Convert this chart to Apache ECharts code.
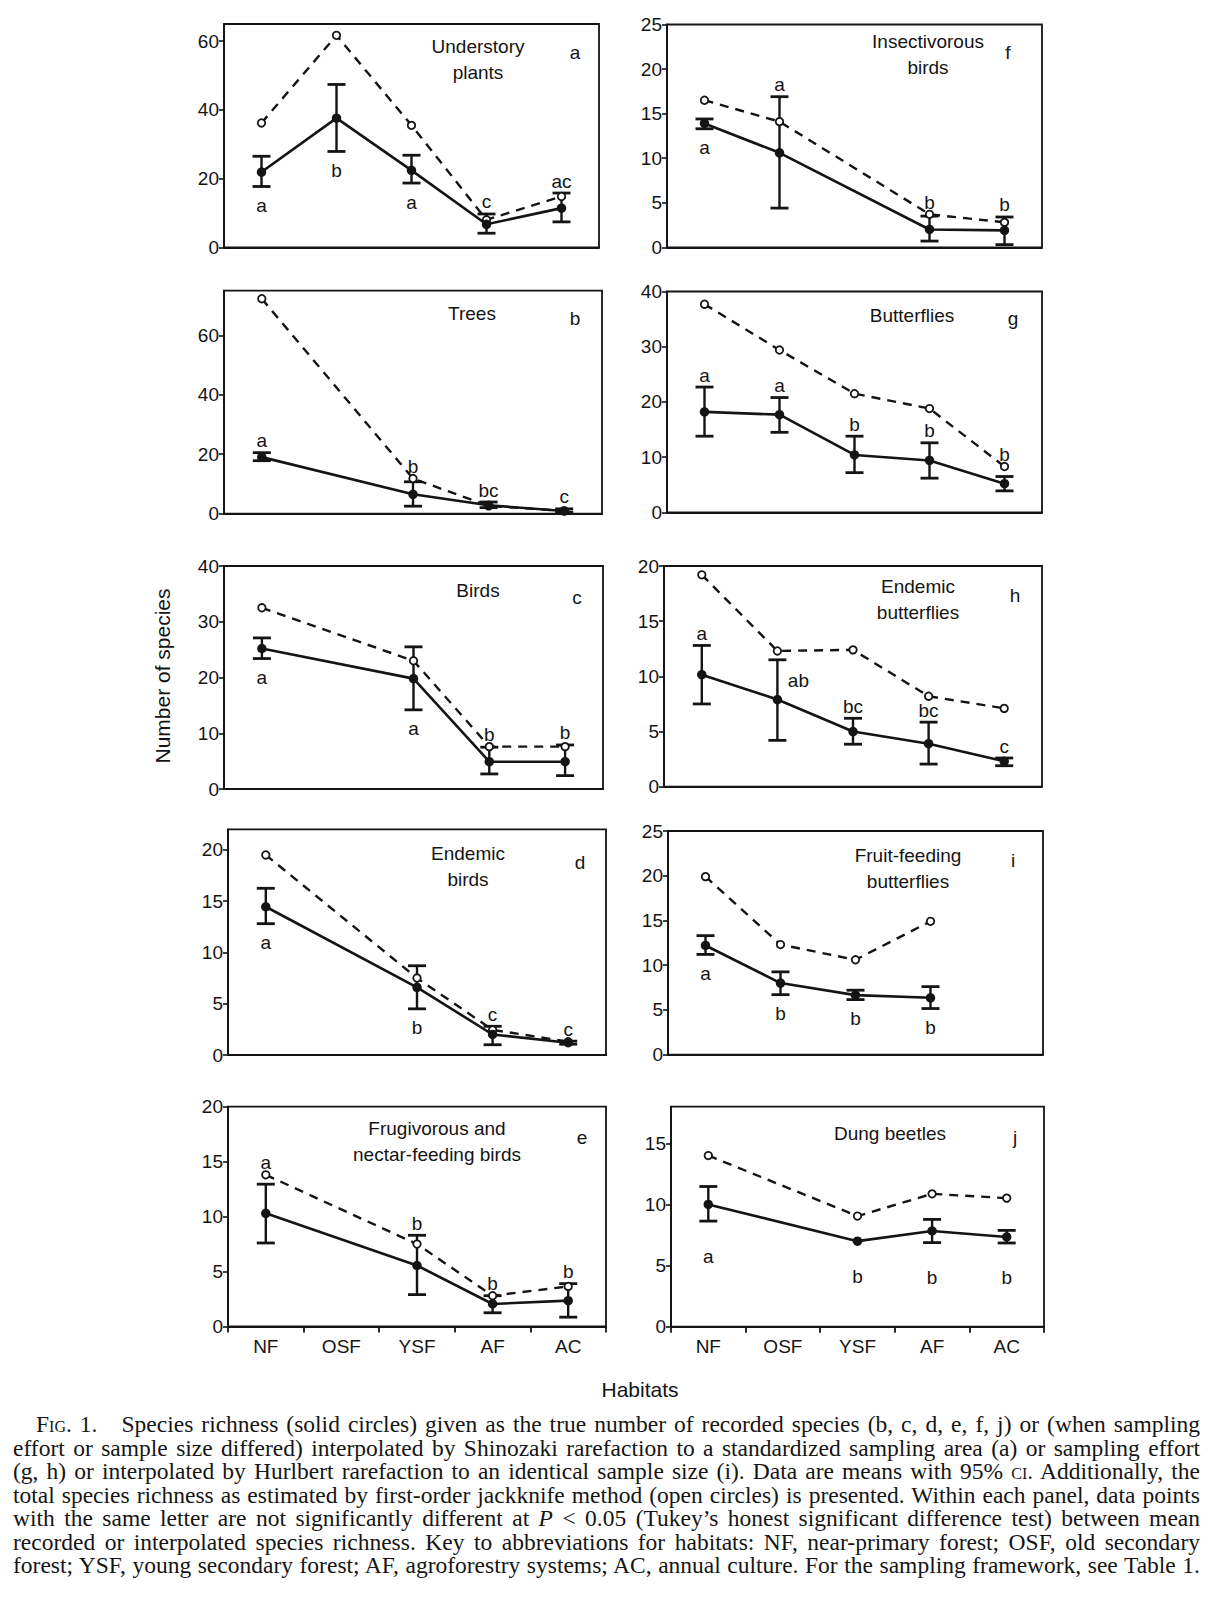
<!DOCTYPE html>
<html><head><meta charset="utf-8">
<script src="https://cdn.jsdelivr.net/npm/echarts@6/dist/echarts.min.js"></script>
<style>
html,body{margin:0;padding:0;background:#fff;}
#chart{position:absolute;left:0;top:0;width:1223px;height:1605px;}
#caption{position:absolute;left:13px;top:1413px;width:1187px;font-family:'Liberation Serif','Times New Roman',serif;font-size:23.5px;line-height:23.5px;color:#151515;}
#caption div{white-space:nowrap;overflow:visible;height:23.5px;}
#caption div span.ln{display:inline-block;white-space:nowrap;}
.sc{font-variant:small-caps;}
</style></head><body>
<div id="chart"></div>
<div id="caption">
<div style="padding-left:23px"><span class="ln">F<span class="sc">ig</span>. 1.&nbsp;&nbsp; Species richness (solid circles) given as the true number of recorded species (b, c, d, e, f, j) or (when sampling</span></div>
<div><span class="ln">effort or sample size differed) interpolated by Shinozaki rarefaction to a standardized sampling area (a) or sampling effort</span></div>
<div><span class="ln">(g, h) or interpolated by Hurlbert rarefaction to an identical sample size (i). Data are means with 95% <span class="sc">ci</span>. Additionally, the</span></div>
<div><span class="ln">total species richness as estimated by first-order jackknife method (open circles) is presented. Within each panel, data points</span></div>
<div><span class="ln">with the same letter are not significantly different at <i>P</i> &lt; 0.05 (Tukey’s honest significant difference test) between mean</span></div>
<div><span class="ln">recorded or interpolated species richness. Key to abbreviations for habitats: NF, near-primary forest; OSF, old secondary</span></div>
<div><span class="ln">forest; YSF, young secondary forest; AF, agroforestry systems; AC, annual culture. For the sampling framework, see Table 1.</span></div>
</div>
<script>
// ---------- DATA ----------
const habitats = ['NF', 'OSF', 'YSF', 'AF', 'AC'];

// (a) Understory plants
const understoryMean = [21.9, 37.6, 22.4, 6.7, 11.4];
const understoryLow = [17.7, 27.9, 18.7, 4.1, 7.4];
const understoryHigh = [26.5, 47.4, 26.8, 9.7, 15.8];
const understoryJack = [36.2, 61.7, 35.5, 8.0, 14.8];
const understoryLetters = ['a', 'b', 'a', 'c', 'ac'];

// (b) Trees
const treesMean = [19.0, null, 6.5, 2.8, 0.9];
const treesLow = [17.8, null, 2.5, 2.0, 0.5];
const treesHigh = [20.5, null, 10.7, 3.9, 1.6];
const treesJack = [72.3, null, 11.8, 2.6, 0.9];
const treesLetters = ['a', '', 'b', 'bc', 'c'];

// (c) Birds
const birdsMean = [25.2, null, 19.8, 4.9, 4.9];
const birdsLow = [23.4, null, 14.2, 2.7, 2.4];
const birdsHigh = [27.1, null, 25.5, 7.5, 7.9];
const birdsJack = [32.5, null, 23.0, 7.6, 7.6];
const birdsLetters = ['a', '', 'a', 'b', 'b'];

// (d) Endemic birds
const endBirdsMean = [14.45, null, 6.6, 2.0, 1.2];
const endBirdsLow = [12.8, null, 4.5, 1.0, 1.05];
const endBirdsHigh = [16.25, null, 8.7, 2.8, 1.35];
const endBirdsJack = [19.5, null, 7.5, 2.45, 1.3];
const endBirdsLetters = ['a', '', 'b', 'c', 'c'];

// (e) Frugivorous and nectar-feeding birds
const frugMean = [10.3, null, 5.55, 2.05, 2.35];
const frugLow = [7.6, null, 2.9, 1.25, 0.85];
const frugHigh = [12.95, null, 8.3, 2.8, 3.9];
const frugJack = [13.8, null, 7.5, 2.8, 3.65];
const frugLetters = ['a', '', 'b', 'b', 'b'];

// (f) Insectivorous birds
const insectMean = [13.9, 10.6, null, 2.0, 1.9];
const insectLow = [13.3, 4.4, null, 0.7, 0.3];
const insectHigh = [14.4, 16.9, null, 3.5, 3.4];
const insectJack = [16.5, 14.1, null, 3.7, 2.8];
const insectLetters = ['a', 'a', '', 'b', 'b'];

// (g) Butterflies
const buttMean = [18.2, 17.7, 10.4, 9.4, 5.2];
const buttLow = [13.8, 14.5, 7.2, 6.2, 3.9];
const buttHigh = [22.7, 20.8, 13.8, 12.6, 6.5];
const buttJack = [37.7, 29.4, 21.5, 18.8, 8.3];
const buttLetters = ['a', 'a', 'b', 'b', 'b'];

// (h) Endemic butterflies
const endButtMean = [10.15, 7.9, 5.0, 3.9, 2.3];
const endButtLow = [7.5, 4.2, 3.85, 2.05, 1.9];
const endButtHigh = [12.8, 11.5, 6.2, 5.85, 2.6];
const endButtJack = [19.2, 12.3, 12.4, 8.2, 7.1];
const endButtLetters = ['a', 'ab', 'bc', 'bc', 'c'];

// (i) Fruit-feeding butterflies
const fruitMean = [12.2, 8.0, 6.65, 6.35, null];
const fruitLow = [11.2, 6.7, 6.15, 5.15, null];
const fruitHigh = [13.3, 9.25, 7.2, 7.6, null];
const fruitJack = [19.9, 12.3, 10.6, 14.9, null];
const fruitLetters = ['a', 'b', 'b', 'b', ''];

// (j) Dung beetles
const dungMean = [10.0, null, 7.0, 7.83, 7.34];
const dungLow = [8.64, null, null, 6.88, 6.85];
const dungHigh = [11.47, null, null, 8.78, 7.88];
const dungJack = [14.0, null, 9.05, 10.87, 10.52];
const dungLetters = ['a', '', 'b', 'b', 'b'];

// ---------- PANEL LAYOUT ----------
const panels = [
  { tag: 'a', title: 'Understory\nplants', mean: understoryMean, low: understoryLow, high: understoryHigh, jack: understoryJack, letters: understoryLetters,
    box: [224, 24, 599, 247.3], max: 65, ticks: [0, 20, 40, 60], titlePos: [478, 59.5], tagPos: [575, 52], sides: ['b','b','b','a','a'] },
  { tag: 'b', title: 'Trees', mean: treesMean, low: treesLow, high: treesHigh, jack: treesJack, letters: treesLetters,
    box: [224, 290.7, 602, 513.6], max: 75, ticks: [0, 20, 40, 60], titlePos: [472, 313.5], tagPos: [575, 318.5], sides: ['a','','a','a','a'] },
  { tag: 'c', title: 'Birds', mean: birdsMean, low: birdsLow, high: birdsHigh, jack: birdsJack, letters: birdsLetters,
    box: [224, 566, 603, 789], max: 40, ticks: [0, 10, 20, 30, 40], titlePos: [478, 590], tagPos: [577, 597], sides: ['b','','b','a','a'] },
  { tag: 'd', title: 'Endemic\nbirds', mean: endBirdsMean, low: endBirdsLow, high: endBirdsHigh, jack: endBirdsJack, letters: endBirdsLetters,
    box: [228, 829.3, 606, 1055], max: 22, ticks: [0, 5, 10, 15, 20], titlePos: [468, 866.7], tagPos: [580, 862], sides: ['b','','b','a','a'] },
  { tag: 'e', title: 'Frugivorous and\nnectar-feeding birds', mean: frugMean, low: frugLow, high: frugHigh, jack: frugJack, letters: frugLetters,
    box: [228, 1106.7, 606, 1326.5], max: 20, ticks: [0, 5, 10, 15, 20], titlePos: [437, 1141.3], tagPos: [582, 1137], sides: ['a','','a','a','a'], bottomRow: true },
  { tag: 'f', title: 'Insectivorous\nbirds', mean: insectMean, low: insectLow, high: insectHigh, jack: insectJack, letters: insectLetters,
    box: [667, 24.5, 1042, 247.3], max: 25, ticks: [0, 5, 10, 15, 20, 25], titlePos: [928, 54.2], tagPos: [1008, 52], sides: ['b','a','','a','a'] },
  { tag: 'g', title: 'Butterflies', mean: buttMean, low: buttLow, high: buttHigh, jack: buttJack, letters: buttLetters,
    box: [667, 291.5, 1042, 512.4], max: 40, ticks: [0, 10, 20, 30, 40], titlePos: [912, 315], tagPos: [1013, 318.5], sides: ['a','a','a','a','a'] },
  { tag: 'h', title: 'Endemic\nbutterflies', mean: endButtMean, low: endButtLow, high: endButtHigh, jack: endButtJack, letters: endButtLetters,
    box: [664, 566, 1042, 786.7], max: 20, ticks: [0, 5, 10, 15, 20], titlePos: [918, 599.5], tagPos: [1015, 595], sides: ['a','r','a','a','a'] },
  { tag: 'i', title: 'Fruit-feeding\nbutterflies', mean: fruitMean, low: fruitLow, high: fruitHigh, jack: fruitJack, letters: fruitLetters,
    box: [668, 831, 1043, 1054.6], max: 25, ticks: [0, 5, 10, 15, 20, 25], titlePos: [908, 868.3], tagPos: [1013, 860], sides: ['b','b','b','b',''] },
  { tag: 'j', title: 'Dung beetles', mean: dungMean, low: dungLow, high: dungHigh, jack: dungJack, letters: dungLetters,
    box: [671, 1106.7, 1044, 1326.7], max: 18, ticks: [0, 5, 10, 15], titlePos: [890, 1133.3], tagPos: [1015, 1137], sides: ['b','','b','b','b'], gapB: 35, bottomRow: true }
];

const INK = '#141414';
const SANS = '"Liberation Sans", Arial, Helvetica, sans-serif';

const grid = [], xAxis = [], yAxis = [], series = [], graphic = [];

function makeRender(p) {
  const gapB = p.gapB || 19, gapA = 12;
  return function (params, api) {
    const i = params.dataIndex;
    const children = [];
    const cx = api.coord([i, 0])[0];
    let topY = null, botY = null;
    if (p.low[i] != null && p.high[i] != null) {
      topY = api.coord([i, p.high[i]])[1];
      botY = api.coord([i, p.low[i]])[1];
      children.push({ type: 'line', shape: { x1: cx, y1: topY, x2: cx, y2: botY }, style: { stroke: INK, lineWidth: 2.4 } });
      children.push({ type: 'line', shape: { x1: cx - 9, y1: topY, x2: cx + 9, y2: topY }, style: { stroke: INK, lineWidth: 2.8 } });
      children.push({ type: 'line', shape: { x1: cx - 9, y1: botY, x2: cx + 9, y2: botY }, style: { stroke: INK, lineWidth: 2.8 } });
    } else if (p.mean[i] != null) {
      topY = botY = api.coord([i, p.mean[i]])[1];
    }
    const letter = p.letters[i];
    if (letter && topY != null) {
      const side = p.sides[i];
      let x = cx, y;
      if (side === 'a') {
        let anchor = topY;
        if (p.jack[i] != null) {
          const jy = api.coord([i, p.jack[i]])[1];
          if (jy < anchor && anchor - jy < 20) anchor = jy;
        }
        y = anchor - gapA;
      } else if (side === 'b') {
        y = botY + gapB;
      } else {
        x = cx + 21; y = topY + 21;
      }
      children.push({ type: 'text', style: { text: letter, x: x, y: y, align: 'center', verticalAlign: 'middle', font: '19px ' + SANS, fill: INK } });
    }
    return { type: 'group', children: children };
  };
}

panels.forEach((p, k) => {
  const [L, T, R, B] = p.box;
  grid.push({ left: L, top: T, width: R - L, height: B - T, show: true, borderColor: INK, borderWidth: 1.8, backgroundColor: 'transparent' });
  xAxis.push({
    type: 'category', gridIndex: k, data: habitats, boundaryGap: true,
    axisLine: { show: true, lineStyle: { color: INK, width: 1.8 } },
    axisTick: { show: !!p.bottomRow, inside: false, length: 6, alignWithLabel: false, lineStyle: { color: INK, width: 1.8 } },
    axisLabel: { show: !!p.bottomRow, fontSize: 19, fontFamily: SANS, color: INK, margin: 10 },
    splitLine: { show: false }
  });
  const interval = p.ticks[1] - p.ticks[0];
  yAxis.push({
    type: 'value', gridIndex: k, min: 0, max: p.max, interval: interval,
    axisLine: { show: true, lineStyle: { color: INK, width: 1.8 } },
    axisTick: { show: true, inside: false, length: 5, lineStyle: { color: INK, width: 1.6 }, customValues: p.ticks },
    axisLabel: { fontSize: 19, fontFamily: SANS, color: INK, margin: 5, customValues: p.ticks,
      formatter: v => (p.ticks.indexOf(v) >= 0 ? String(v) : '') },
    splitLine: { show: false }
  });
  series.push({
    type: 'custom', xAxisIndex: k, yAxisIndex: k, z: 2,
    data: habitats.map((h, i) => [i, 0]),
    encode: { x: 0, y: 1 },
    renderItem: makeRender(p), silent: true
  });
  series.push({
    type: 'line', xAxisIndex: k, yAxisIndex: k, z: 3, data: p.jack, connectNulls: true,
    symbol: 'circle', symbolSize: 7.5,
    itemStyle: { color: '#fff', borderColor: INK, borderWidth: 1.8 },
    lineStyle: { color: INK, width: 2.4, type: [9, 7] },
    silent: true
  });
  series.push({
    type: 'line', xAxisIndex: k, yAxisIndex: k, z: 4, data: p.mean, connectNulls: true,
    symbol: 'circle', symbolSize: 9.5,
    itemStyle: { color: INK },
    lineStyle: { color: INK, width: 2.6 },
    silent: true
  });
  graphic.push({ type: 'text', x: p.titlePos[0], y: p.titlePos[1], z: 10,
    style: { text: p.title, align: 'center', verticalAlign: 'middle', font: '19px ' + SANS, lineHeight: 26, fill: INK } });
  graphic.push({ type: 'text', x: p.tagPos[0], y: p.tagPos[1], z: 10,
    style: { text: p.tag, align: 'center', verticalAlign: 'middle', font: '19px ' + SANS, fill: INK } });
});

graphic.push({ type: 'text', x: 162, y: 676, rotation: Math.PI / 2,
  style: { text: 'Number of species', align: 'center', verticalAlign: 'middle', font: '21px ' + SANS, fill: INK } });
graphic.push({ type: 'text', x: 640, y: 1389,
  style: { text: 'Habitats', align: 'center', verticalAlign: 'middle', font: '21px ' + SANS, fill: INK } });

const chart = echarts.init(document.getElementById('chart'), null, { renderer: 'svg' });
chart.setOption({
  backgroundColor: '#fff',
  animation: false,
  grid: grid, xAxis: xAxis, yAxis: yAxis, series: series, graphic: graphic
});

// Justify each caption line to the full column width by spreading word spacing.
function justifyCaption() {
  document.querySelectorAll('#caption > div').forEach(d => {
    const span = d.querySelector('span.ln');
    span.style.wordSpacing = '0px';
    const pad = parseFloat(getComputedStyle(d).paddingLeft) || 0;
    const target = 1187 - pad;
    const w = span.getBoundingClientRect().width;
    const n = (span.textContent.match(/[ \u00a0]/g) || []).length;
    if (n > 0) span.style.wordSpacing = ((target - w) / n) + 'px';
  });
}
justifyCaption();
if (document.fonts && document.fonts.ready) document.fonts.ready.then(justifyCaption);
</script>
</body></html>
